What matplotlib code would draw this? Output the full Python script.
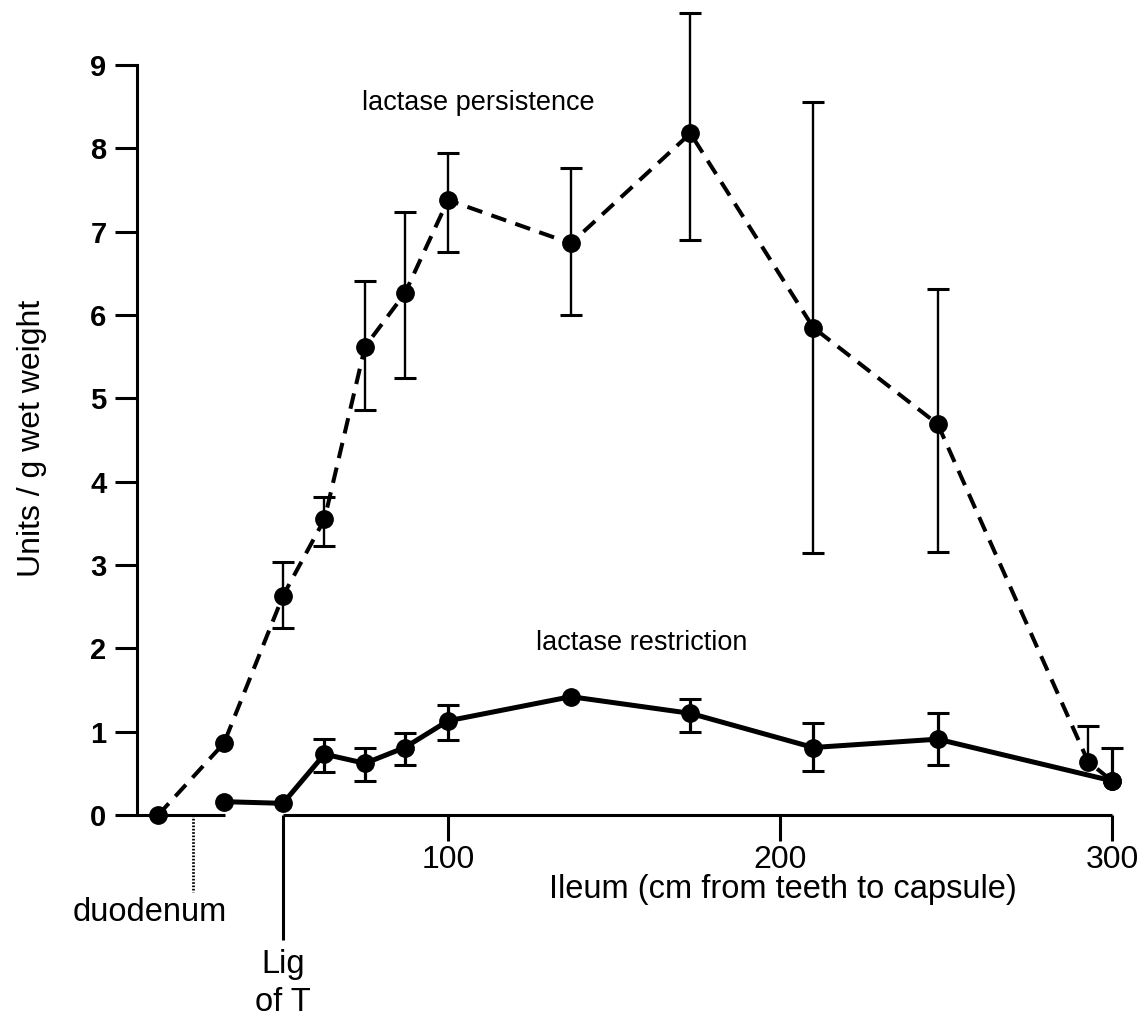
import numpy as np
import matplotlib.pyplot as plt

plt.rcParams["font.family"] = ["Liberation Sans", "DejaVu Sans"]

# sampling sites along the gut (cm from teeth)
pers_x = [12.7, 32.5, 50.3, 62.8, 75, 87, 100, 137, 173, 210, 247.5, 292.8, 300]
pers_y = [0.0, 0.86, 2.63, 3.55, 5.62, 6.26, 7.38, 6.86, 8.18, 5.85, 4.69, 0.64, 0.41]
pers_hi = [0, 0, 0.41, 0.27, 0.79, 0.98, 0.57, 0.90, 1.44, 2.71, 1.62, 0.43, 0]
pers_lo = [0, 0, 0.39, 0.32, 0.76, 1.02, 0.62, 0.86, 1.28, 2.71, 1.53, 0, 0]

restr_x = [32.5, 50.3, 62.8, 75, 87, 100, 137, 173, 210, 247.5, 300]
restr_y = [0.16, 0.14, 0.73, 0.62, 0.81, 1.13, 1.42, 1.22, 0.81, 0.91, 0.41]
restr_hi = [0, 0, 0.18, 0.18, 0.18, 0.19, 0, 0.17, 0.29, 0.31, 0.39]
restr_lo = [0, 0, 0.21, 0.21, 0.21, 0.23, 0, 0.22, 0.28, 0.31, 0]

xticks = [100, 200, 300]
yticks = list(range(10))
duodenum_x = 23.2
ligament_x = 50.3

W, H = 1147, 1016
fig = plt.figure(figsize=(W / 100, H / 100), dpi=100)
ax = fig.add_axes([137 / W, 201 / H, 988 / W, 808.3 / H])
ax.set_xlim(6.33, 303.9)
ax.set_ylim(0, 9.7)


def errbars(x, y, lo, hi, lw, capw):
    x, y, lo, hi = map(np.asarray, (x, y, lo, hi))
    m = (lo > 0) | (hi > 0)
    ax.vlines(x[m], (y - lo)[m], (y + hi)[m], color="black", lw=lw,
              clip_on=False, zorder=2)
    for ends, mask in (((y + hi), hi > 0), ((y - lo), lo > 0)):
        ax.plot(x[mask], ends[mask], "_", color="black", ms=capw, mew=2.2,
                clip_on=False, zorder=2)


errbars(pers_x, pers_y, pers_lo, pers_hi, 1.7, 16.5)
errbars(restr_x, restr_y, restr_lo, restr_hi, 2.3, 16)

ax.plot(pers_x, pers_y, color="black", lw=2.9, dashes=(3.9, 2.4),
        marker="o", ms=12.5, clip_on=False, zorder=3)
ax.plot(restr_x, restr_y, color="black", lw=3.6, marker="o", ms=12.5,
        clip_on=False, zorder=4)

# axes furniture: broken baseline, Treitz and duodenum markers
for s in ("top", "right", "bottom"):
    ax.spines[s].set_visible(False)
ax.spines["left"].set_linewidth(2.2)
ax.spines["left"].set_bounds(0, 9)
ax.plot([6.33, 32.8], [0, 0], color="black", lw=2.2, clip_on=False,
        solid_capstyle="butt")
ax.plot([ligament_x, 300], [0, 0], color="black", lw=2.2, clip_on=False,
        solid_capstyle="butt")
ax.plot([ligament_x, ligament_x], [0, -1.5], color="black", lw=2.2,
        clip_on=False, solid_capstyle="butt")
ax.plot([duodenum_x, duodenum_x], [0, -0.93], color="black", lw=2.0,
        ls=(0, (0.6, 0.6)), clip_on=False)

ax.set_xticks(xticks)
ax.set_yticks(yticks)
ax.tick_params(axis="x", length=19, width=2.2, pad=2.5, labelsize=23)
ax.tick_params(axis="y", length=16, width=2.2, pad=6, labelsize=21)
for lab in ax.get_yticklabels():
    lab.set_fontweight("bold")

ax.set_ylabel("Units / g wet weight", fontsize=23)
ax.yaxis.set_label_coords(-0.091, 0.466)

ax.text(200.9, -0.89, "Ileum (cm from teeth to capsule)", fontsize=23.5,
        ha="center", va="center")
ax.text(10.2, -1.27, "duodenum", fontsize=23.5, ha="center", va="baseline")
ax.text(ligament_x, -1.895, "Lig", fontsize=23.5, ha="center", va="baseline")
ax.text(ligament_x, -2.35, "of T", fontsize=23.5, ha="center", va="baseline")
ax.text(109, 8.54, "lactase persistence", fontsize=19.5, ha="center",
        va="center")
ax.text(158.4, 2.06, "lactase restriction", fontsize=19.5, ha="center",
        va="center")

fig.savefig("out.png", dpi=100)
